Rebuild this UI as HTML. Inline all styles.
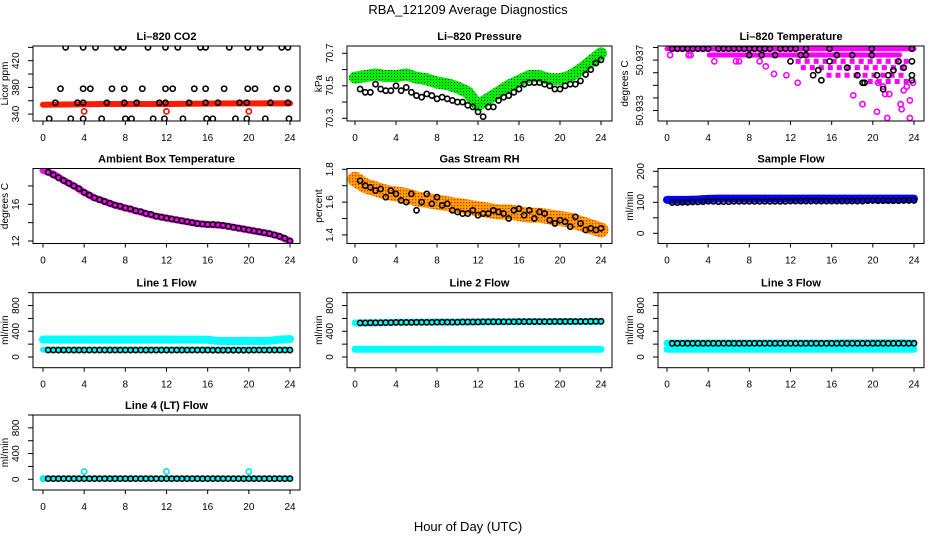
<!DOCTYPE html>
<html><head><meta charset="utf-8">
<style>
html,body{margin:0;padding:0;background:#fff;}
svg{display:block;font-family:"Liberation Sans",sans-serif;}
</style></head>
<body>
<svg id="chart" width="936" height="540" viewBox="0 0 936 540">
<defs>
<pattern id="greenSpeck" width="3" height="3" patternUnits="userSpaceOnUse"><rect width="3" height="3" fill="#00ee00"/><rect x="1" y="1" width="1" height="1" fill="#003300"/></pattern>
<pattern id="orangeSpeck" width="3" height="3" patternUnits="userSpaceOnUse"><rect width="3" height="3" fill="#ffa500"/><rect x="1" y="1" width="1.3" height="1.3" fill="#ff2000"/></pattern>
</defs>
<text x="468" y="14" font-size="13" text-anchor="middle">RBA_121209  Average Diagnostics</text>
<text x="468" y="531" font-size="13" text-anchor="middle">Hour of Day (UTC)</text>
</svg>
<script>
// ---------- data ----------
const hours48 = [0.5,1,1.5,2,2.5,3,3.5,4,4.5,5,5.5,6,6.5,7,7.5,8,8.5,9,9.5,10,10.5,11,11.5,12,12.5,13,13.5,14,14.5,15,15.5,16,16.5,17,17.5,18,18.5,19,19.5,20,20.5,21,21.5,22,22.5,23,23.5,24];
const hours25 = [0,1,2,3,4,5,6,7,8,9,10,11,12,13,14,15,16,17,18,19,20,21,22,23,24];
const xTicks = [0,4,8,12,16,20,24];

// CO2
const co2T = [2.2,3.9,5.1,7.2,7.8,10.2,11.9,13.1,15.3,15.8,18.1,19.9,21.1,23.2,23.8,
  1.7,3.9,4.6,6.7,7.9,9.65,11.9,12.6,14.7,15.8,17.6,19.9,20.6,22.7,23.8,
  1.2,3.35,3.9,6.2,7.9,9.1,11.3,11.9,14.2,15.8,17.0,19.1,19.8,22.1,23.8,
  0.6,2.7,3.9,5.7,8.0,8.6,10.7,11.8,13.6,15.9,16.5,18.7,19.8,21.6,23.9];
const co2V = [440,440,440,440,440,440,440,440,440,440,440,440,440,440,440,
  378,378,378,378,378,378,378,378,378,378,378,378,378,378,378,
  357,357,357,357,357,357,357,357,357,357,357,357,357,357,357,
  333,333,333,333,333,333,333,333,333,333,333,333,333,333,333];
const co2BandT = [0,6,12,18,24];
const co2BandV = [354,355,355,356,356];
const co2RedT = [4,12,20];
const co2RedV = [344,344,344];

// Pressure
const pressV = [70.48,70.46,70.46,70.51,70.48,70.47,70.47,70.50,70.47,70.49,70.46,70.44,70.43,70.45,70.44,70.42,70.43,70.42,70.41,70.40,70.40,70.38,70.37,70.34,70.31,70.37,70.37,70.41,70.43,70.44,70.46,70.48,70.51,70.52,70.52,70.52,70.51,70.50,70.48,70.48,70.50,70.51,70.51,70.53,70.57,70.60,70.64,70.66];
const pressBandV = [70.55,70.56,70.57,70.56,70.56,70.57,70.55,70.54,70.52,70.51,70.49,70.46,70.38,70.42,70.46,70.50,70.53,70.56,70.56,70.54,70.54,70.56,70.60,70.65,70.70];

// Li-820 temperature
const tempRowV = [50.9379,50.9374,50.9369,50.9364,50.9358,50.9353];
const tempRowStart = [0,4.1,12.5,13,15.5,19.5];
const tempRowEnd = [24,22.6,23.5,23.5,23,23.5];
const tempMagT = [0.3,2.1,2.3,4.6,6.7,7.0,9.0,9.6,10.4,11.6,12.7,18.1,19.0,20.4,21.4,21.2,21.6,22.7,22.8,23.6,23.6,20.5,21.0,23.3,23.0,23.9];
const tempMagV = [50.9374,50.9374,50.9374,50.9369,50.9369,50.9369,50.9369,50.9365,50.9359,50.9358,50.9352,50.9342,50.9335,50.9329,50.9324,50.9343,50.9343,50.9335,50.9331,50.9338,50.9324,50.9352,50.9349,50.9349,50.9346,50.9352];
const tempBlkT = [0.5,1,1.5,2,2.5,3,3.5,4,5,5.5,6,6.5,7,7.5,8,8.5,9,9.5,10,11,11.5,12,12.5,13.5,8,9.2,10.5,12,13,13.5,14.2,14.7,15,15.8,15.8,16.5,17.5,18,18.5,19,19.2,19.9,19.9,20.4,21,21.5,22,22.5,23,23.8,23.8,23.8,23.8];
const tempBlkV = [50.9379,50.9379,50.9379,50.9379,50.9379,50.9379,50.9379,50.9379,50.9379,50.9379,50.9379,50.9379,50.9379,50.9379,50.9379,50.9379,50.9379,50.9379,50.9379,50.9379,50.9379,50.9379,50.9379,50.9379,50.9374,50.9374,50.9374,50.9369,50.9374,50.9374,50.9358,50.9362,50.9354,50.9379,50.9369,50.9374,50.9364,50.9374,50.9358,50.9352,50.9352,50.9379,50.9374,50.9358,50.9347,50.9358,50.9362,50.9369,50.9364,50.9379,50.9369,50.9358,50.9354];

// Ambient box temperature
const ambV = [19.5,19.2,18.9,18.6,18.3,18.0,17.7,17.3,17.0,16.7,16.5,16.3,16.1,15.9,15.8,15.6,15.5,15.3,15.2,15.0,14.9,14.7,14.6,14.5,14.4,14.3,14.2,14.1,14.0,13.9,13.85,13.8,13.8,13.75,13.7,13.6,13.5,13.4,13.3,13.2,13.1,13.0,12.9,12.8,12.65,12.5,12.3,12.0];
const ambBandV = [19.7,19.3,18.6,18.0,17.3,16.7,16.3,15.9,15.6,15.3,15.0,14.7,14.5,14.3,14.1,13.9,13.8,13.75,13.6,13.4,13.2,13.0,12.8,12.5,12.0];

// Gas stream RH
const rhV = [1.73,1.70,1.69,1.67,1.68,1.63,1.67,1.65,1.61,1.60,1.65,1.55,1.60,1.65,1.59,1.63,1.58,1.59,1.55,1.54,1.53,1.53,1.55,1.52,1.53,1.53,1.55,1.54,1.53,1.50,1.55,1.56,1.52,1.55,1.50,1.54,1.53,1.49,1.47,1.49,1.48,1.45,1.51,1.47,1.43,1.44,1.43,1.44];
const rhBandV = [1.74,1.70,1.68,1.66,1.65,1.64,1.62,1.61,1.60,1.59,1.58,1.57,1.56,1.55,1.54,1.54,1.53,1.52,1.52,1.51,1.50,1.49,1.47,1.45,1.43];

// Sample flow
const sampV = [99,99,100,100,101,101,102,103,103,102,102,102,103,103,103,103,103,103,103,103,103,103,103,104,104,104,104,104,104,104,104,104,104,104,104,104,104,104,105,106,105,105,105,105,105,106,106,106];
const sampBandV = [108,108,108,109,111,112,112,112,112,112,112,112,112,112,112,112,112,112,112,112,112,112,112,112,112];

// Line flows
const l1V = [108,108,108,108,108,108,108,108,108,108,108,108,108,108,108,108,108,108,108,108,108,108,108,108,108,108,108,108,108,108,108,108,106,106,106,106,106,106,106,106,108,108,108,108,108,108,108,108];
const l1BandV = [272,272,272,272,272,272,272,272,272,272,272,272,272,270,270,270,268,250,248,248,250,250,252,270,278];
const l1LowBandV = [115,115,115,115,115,115,115,115,115,115,115,115,115,115,115,115,115,115,115,115,115,115,115,115,115];
const l2V = [530,530,532,532,532,535,535,538,538,538,538,540,540,540,540,542,542,542,542,542,545,545,545,545,548,548,548,548,548,548,548,550,550,550,550,550,550,550,552,552,552,552,552,552,552,555,555,555];
const l2BandV = [528,530,532,535,538,538,540,540,542,542,542,545,545,548,548,548,550,550,550,550,550,552,552,552,555];
const l2LowBandV = [120,120,120,120,120,120,120,120,120,120,120,120,120,120,120,120,120,120,120,120,120,120,120,120,120];
const l3V = [213,213,213,213,213,213,213,213,213,213,213,213,213,213,213,213,213,213,213,213,213,213,213,213,213,213,213,213,213,213,213,213,213,213,213,213,213,213,213,213,213,213,213,213,213,213,213,213];
const l3BandV = [215,215,215,215,215,215,215,215,215,215,215,215,215,215,215,215,215,220,220,220,220,220,220,220,215];
const l3LowBandV = [120,120,120,120,120,120,120,120,120,120,120,120,120,120,120,120,120,120,120,120,120,120,120,120,120];
const l4V = [10,10,10,10,10,10,10,10,10,10,10,10,10,10,10,10,10,10,10,10,10,10,10,10,10,10,10,10,10,10,10,10,10,10,10,10,10,10,10,10,10,10,10,10,10,10,10,10];
const l4BandV = [10,10,10,10,10,10,10,10,10,10,10,10,10,10,10,10,10,10,10,10,10,10,10,10,10];
const l4CyanT = [0,4,12,20];
const l4CyanV = [10,120,120,120];

// ---------- drawing ----------
const NS = 'http://www.w3.org/2000/svg';
const svg = document.getElementById('chart');
const cols = [{l:33,r:300,x0:43,x24:290},{l:347,r:612,x0:355,x24:601},{l:658,r:924,x0:667,x24:914}];
const rows = [46,168.5,292.7,415];
const BH = 75;

function mk(tag, parent){ const e=document.createElementNS(NS,tag); parent.appendChild(e); return e; }

function panel(ci, ri, name, title, ylab, ref, refOff, k, yTicks, yLabels, ylabOff, tickLabOff){
  const c = cols[ci], top = rows[ri];
  const g = mk('g', svg);
  
  
  const xs = t => c.x0 + t*(c.x24-c.x0)/24;
  const ys = v => top + refOff - (v-ref)*k;
  const clip = mk('clipPath', g); clip.setAttribute('id', 'clip-'+name);
  const cr = mk('rect', clip); cr.setAttribute('x',c.l); cr.setAttribute('y',top); cr.setAttribute('width',c.r-c.l); cr.setAttribute('height',BH);
  const plot = mk('g', g); plot.setAttribute('clip-path','url(#clip-'+name+')');
  
  
  const box = mk('rect', g);
  box.setAttribute('x',c.l); box.setAttribute('y',top); box.setAttribute('width',c.r-c.l); box.setAttribute('height',BH);
  box.setAttribute('fill','none'); box.setAttribute('stroke','#000');
  
  
  const tt = mk('text', g); tt.textContent = title;
  tt.setAttribute('x',(c.l+c.r)/2); tt.setAttribute('y',top-6); tt.setAttribute('text-anchor','middle');
  tt.setAttribute('font-size','11'); tt.setAttribute('font-weight','bold');
  
  
  const yl = mk('text', g); yl.textContent = ylab;
  const ylx = c.l-ylabOff, yly = top+BH/2;
  yl.setAttribute('x',ylx); yl.setAttribute('y',yly); yl.setAttribute('text-anchor','middle');
  yl.setAttribute('font-size','10'); yl.setAttribute('transform','rotate(-90 '+ylx+' '+yly+')');
  
  
  xTicks.forEach(t=>{
    const ln = mk('line', g);
    ln.setAttribute('x1',xs(t)); ln.setAttribute('x2',xs(t)); ln.setAttribute('y1',top+BH); ln.setAttribute('y2',top+BH+4); ln.setAttribute('stroke','#000');
    
    
    const tx = mk('text', g); tx.textContent = t;
    tx.setAttribute('x',xs(t)); tx.setAttribute('y',top+BH+20); tx.setAttribute('text-anchor','middle'); tx.setAttribute('font-size','10');
    
    
  });
  yTicks.forEach(v=>{
    const y = ys(v); if (y < top-0.5 || y > top+BH+0.5) return;
    const ln = mk('line', g);
    ln.setAttribute('x1',c.l-5); ln.setAttribute('x2',c.l); ln.setAttribute('y1',y); ln.setAttribute('y2',y); ln.setAttribute('stroke','#000');
    
    
  });
  yLabels.forEach(v=>{
    const y = ys(v), x = c.l-tickLabOff;
    const tx = mk('text', g); tx.textContent = String(v);
    tx.setAttribute('x',x); tx.setAttribute('y',y); tx.setAttribute('text-anchor','middle'); tx.setAttribute('font-size','10');
    tx.setAttribute('transform','rotate(-90 '+x+' '+y+')');
    
    
  });
  return {plot, xs, ys};
}

function band(p, T, V, width, color, nm){
  const pl = mk('polyline', p.plot);
  pl.setAttribute('points', T.map((t,i)=>p.xs(t)+','+p.ys(V[i])).join(' '));
  pl.setAttribute('fill','none'); pl.setAttribute('stroke',color); pl.setAttribute('stroke-width',width);
  pl.setAttribute('stroke-linecap','round'); pl.setAttribute('stroke-linejoin','round');
  
  
}
function seg(p, t0, t1, v, width, color, nm, dash){
  const ln = mk('line', p.plot);
  ln.setAttribute('x1',p.xs(t0)); ln.setAttribute('x2',p.xs(t1)); ln.setAttribute('y1',p.ys(v)); ln.setAttribute('y2',p.ys(v));
  ln.setAttribute('stroke',color); ln.setAttribute('stroke-width',width);
  if (dash) ln.setAttribute('stroke-dasharray', dash); else ln.setAttribute('stroke-linecap','round');
  
  
}
function pts(p, T, V, color, nm){
  T.forEach((t,i)=>{
    const c = mk('circle', p.plot);
    c.setAttribute('cx',p.xs(t)); c.setAttribute('cy',p.ys(V[i])); c.setAttribute('r','2.6');
    c.setAttribute('fill','none'); c.setAttribute('stroke',color); c.setAttribute('stroke-width','1.6');
    
    
  });
}

// CO2
let p = panel(0,0,'co2-panel','Li\u2013820 CO2','Licor ppm',420,14.7,0.667,[320,340,360,380,400,420,440],[340,380,420],25,14);
band(p, co2BandT, co2BandV, 6, '#ff1a00', 'co2-red-band');
pts(p, co2RedT, co2RedV, '#ff0000', 'co2-red-point');
pts(p, co2T, co2V, '#000', 'co2-point');

// Pressure
p = panel(1,0,'pressure-panel','Li\u2013820 Pressure','kPa',70.7,7.3,162.5,[70.3,70.4,70.5,70.6,70.7],[70.3,70.5,70.7],25,14);
band(p, hours25, pressBandV, 12, 'url(#greenSpeck)', 'pressure-green-band');
pts(p, hours48, pressV, '#000', 'pressure-point');

// Li-820 temperature
p = panel(2,0,'li820-temp-panel','Li\u2013820 Temperature','degrees C',50.938,1.5,12600,[50.933,50.934,50.935,50.936,50.937,50.938],[50.933,50.937],30,15);
tempRowV.forEach((v,i)=>seg(p, tempRowStart[i], tempRowEnd[i], v, 5, '#ff00ff', 'temp-magenta-row', i>=2 ? '5 4' : null));
pts(p, tempMagT, tempMagV, '#ff00ff', 'temp-magenta-point');
pts(p, tempBlkT, tempBlkV, '#000', 'temp-point');

// Ambient
p = panel(0,1,'ambient-temp-panel','Ambient Box Temperature','degrees C',16,35.8,9.175,[12,14,16,18],[12,16],25,14);
band(p, hours25, ambBandV, 7, '#ff00ff', 'ambient-magenta-band');
pts(p, hours48, ambV, '#000', 'ambient-point');

// RH
p = panel(1,1,'rh-panel','Gas Stream RH','percent',1.8,0.8,164,[1.4,1.5,1.6,1.7,1.8],[1.4,1.6,1.8],25,14);
band(p, hours25, rhBandV, 15, 'url(#orangeSpeck)', 'rh-orange-band');
pts(p, hours48, rhV, '#000', 'rh-point');

// Sample flow
p = panel(2,1,'sample-flow-panel','Sample Flow','ml/min',0,64.8,0.31,[0,50,100,150,200],[0,100,200],25,14);
band(p, hours25, sampBandV, 8, '#0000ff', 'sample-blue-band');
pts(p, hours48, sampV, '#000', 'sample-point');

// Flows
const fT = [0,200,400,600,800,1000], fL = [0,400,800];
p = panel(0,2,'line1-flow-panel','Line 1 Flow','ml/min',0,64.3,0.0643,fT,fL,25,14);
band(p, hours25, l1BandV, 8, '#00ffff', 'line1-cyan-band');
band(p, hours25, l1LowBandV, 6, '#00ffff', 'line1-cyan-low-band');
pts(p, hours48, l1V, '#000', 'line1-point');

p = panel(1,2,'line2-flow-panel','Line 2 Flow','ml/min',0,64.3,0.0643,fT,fL,25,14);
band(p, hours25, l2BandV, 7, '#00ffff', 'line2-cyan-band');
band(p, hours25, l2LowBandV, 7, '#00ffff', 'line2-cyan-low-band');
pts(p, hours48, l2V, '#000', 'line2-point');

p = panel(2,2,'line3-flow-panel','Line 3 Flow','ml/min',0,64.3,0.0643,fT,fL,25,14);
band(p, hours25, l3BandV, 7, '#00ffff', 'line3-cyan-band');
band(p, hours25, l3LowBandV, 7, '#00ffff', 'line3-cyan-low-band');
pts(p, hours48, l3V, '#000', 'line3-point');

p = panel(0,3,'line4-flow-panel','Line 4 (LT) Flow','ml/min',0,64.3,0.0643,fT,fL,25,14);
band(p, hours25, l4BandV, 6, '#00ffff', 'line4-cyan-band');
pts(p, l4CyanT, l4CyanV, '#00e5e5', 'line4-cyan-point');
pts(p, hours48, l4V, '#000', 'line4-point');
</script>
</body></html>
